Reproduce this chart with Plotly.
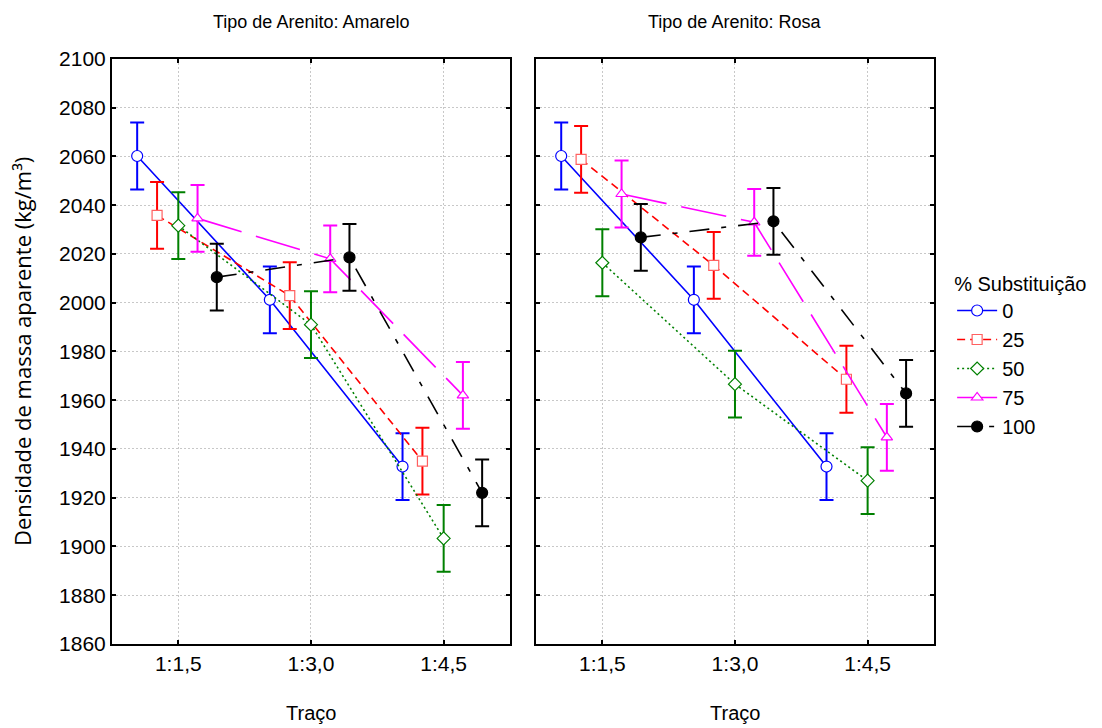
import plotly.graph_objects as go

categories = ["1:1,5", "1:3,0", "1:4,5"]
panels = ["Tipo de Arenito: Amarelo", "Tipo de Arenito: Rosa"]
series_names = ["0", "25", "50", "75", "100"]

# mean values per series (left panel: Amarelo, right panel: Rosa)
amarelo = {
    "0":   [2060.2, 2001.2, 1932.8],
    "25":  [2035.8, 2002.9, 1935.0],
    "50":  [2031.6, 1991.0, 1903.3],
    "75":  [2034.6, 2018.0, 1962.0],
    "100": [2010.5, 2018.6, 1922.0],
}
rosa = {
    "0":   [2060.2, 2001.2, 1932.8],
    "25":  [2058.8, 2015.3, 1968.6],
    "50":  [2016.4, 1966.6, 1927.0],
    "75":  [2044.6, 2033.0, 1944.8],
    "100": [2026.8, 2033.4, 1962.8],
}
err = 13.7  # confidence half-width

y_ticks = list(range(1860, 2101, 20))

colors = ["#0000ff", "#ff0000", "#008000", "#ff00ff", "#000000"]
marker_line = ["#0000ff", "#ff6060", "#008000", "#ff00ff", "#000000"]
symbols = ["circle-open", "square-open", "diamond-open", "triangle-up-open", "circle"]
dashes = ["solid", "8px,5px", "2px,3px", "46px,15px", "20px,12px,5px,12px"]
offsets = [-0.31, -0.16, 0.0, 0.145, 0.29]

fig = go.Figure()
xdom = [[0.1016, 0.4628], [0.4864, 0.8475]]
ydom = [0.1154, 0.919]

for p, data in enumerate([amarelo, rosa]):
    xa = "x" if p == 0 else "x2"
    ya = "y" if p == 0 else "y2"
    for i, s in enumerate(series_names):
        xs = [k + offsets[i] for k in range(len(categories))]
        filled = symbols[i] == "circle"
        fig.add_trace(go.Scatter(
            x=xs, y=data[s], xaxis=xa, yaxis=ya,
            mode="lines+markers", name=s, legendgroup=s, showlegend=(p == 0),
            line=dict(color=colors[i], width=1.6, dash=dashes[i]),
            marker=dict(symbol="circle" if filled else symbols[i].replace("-open", ""),
                        size=11 if i in (0, 4) else 10,
                        color=colors[i] if filled else "white",
                        line=dict(color=marker_line[i], width=1.2)),
            error_y=dict(type="constant", value=err, color=colors[i], thickness=2, width=7),
        ))

axis_common = dict(
    range=[-0.5, 2.5], tickvals=[0, 1, 2], ticktext=categories,
    showline=True, linecolor="black", linewidth=2, mirror="ticks",
    ticks="inside", ticklen=4, tickcolor="black", tickwidth=1.5,
    showgrid=True, gridcolor="#c8c8c8", griddash="2px,2px", gridwidth=1,
    zeroline=False, tickfont=dict(size=21, color="black"), automargin=False,
)
yaxis_common = dict(
    range=[1860, 2100], tickvals=y_ticks,
    showline=True, linecolor="black", linewidth=2, mirror="ticks",
    ticks="inside", ticklen=4, tickcolor="black", tickwidth=1.5,
    showgrid=True, gridcolor="#c8c8c8", griddash="2px,2px", gridwidth=1,
    zeroline=False, tickfont=dict(size=21, color="black"), automargin=False,
)

fig.update_layout(
    width=1102, height=728,
    margin=dict(l=0, r=0, t=0, b=0, pad=0, autoexpand=False),
    paper_bgcolor="white", plot_bgcolor="white",
    font=dict(family="Liberation Sans, Arial, sans-serif", color="black", size=16),
    xaxis=dict(domain=xdom[0], anchor="y", **axis_common),
    xaxis2=dict(domain=xdom[1], anchor="y2", **axis_common),
    yaxis=dict(domain=ydom, anchor="x", **yaxis_common),
    yaxis2=dict(domain=ydom, anchor="x2", showticklabels=False, **yaxis_common),
    legend=dict(
        x=0.864, y=0.636, xanchor="left", yanchor="top",
        title=dict(text="% Substituição", font=dict(size=20)),
        font=dict(size=20), itemwidth=40, tracegroupgap=0,
        bgcolor="rgba(0,0,0,0)",
    ),
    showlegend=True,
)

annotations = []
for p in range(2):
    cx = (xdom[p][0] + xdom[p][1]) / 2
    annotations.append(dict(text=panels[p], x=cx, y=1 - 22 / 728, xref="paper", yref="paper",
                            showarrow=False, font=dict(size=18), xanchor="center", yanchor="middle"))
    annotations.append(dict(text="Traço", x=cx, y=1 - 713 / 728, xref="paper", yref="paper",
                            showarrow=False, font=dict(size=20), xanchor="center", yanchor="middle"))
annotations.append(dict(text="Densidade de massa aparente (kg/m³)", x=22 / 1102, y=1 - 352 / 728,
                        xref="paper", yref="paper", textangle=-90, showarrow=False,
                        font=dict(size=22, family="Open Sans"), xanchor="center", yanchor="middle"))
fig.update_layout(annotations=annotations)

fig.write_html("out.html")
